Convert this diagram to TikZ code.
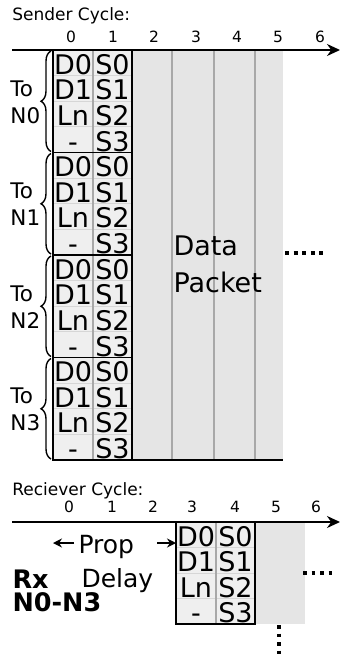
\documentclass[tikz,border=0pt]{standalone}
\usepackage{fontspec}
\setmainfont{DejaVu Sans}
\usetikzlibrary{arrows.meta,decorations.pathreplacing}
\definecolor{cellfill}{HTML}{EFEFEF}
\definecolor{pktfill}{HTML}{E5E5E5}
\definecolor{sepgray}{HTML}{A8A8A8}
\definecolor{rowgray}{HTML}{D6D6D6}
\tikzset{
  basefont/.style={font=\fontsize{10pt}{12pt}\selectfont, inner sep=0pt},
  celltxt/.style={basefont, scale=2.7, anchor=base},
  axlbl/.style={basefont, scale=1.55, anchor=base},
  ttl/.style={basefont, scale=1.7, anchor=base west},
  tolbl/.style={basefont, scale=2.15, anchor=base west},
  bigtxt/.style={basefont, scale=2.7, anchor=base west},
  delaytxt/.style={basefont, scale=2.5, anchor=base west},
  rxtxt/.style={font=\bfseries\fontsize{10pt}{12pt}\selectfont, inner sep=0pt, scale=2.55, anchor=base west},
  axisline/.style={line width=2pt, -{Stealth[length=13pt,width=12pt]}},
  grpborder/.style={draw=black, line width=1.6pt},
  colsep/.style={draw=sepgray, line width=1.5pt},
  rowsep/.style={draw=rowgray, line width=1pt},
  pktsep/.style={draw=sepgray, line width=1.8pt},
  dotline/.style={line width=4pt, dash pattern=on 4pt off 4.6pt},
  bracestyle/.style={decorate, decoration={brace, amplitude=10pt}, line width=1.4pt},
  proparrow/.style={line width=2pt, -{Stealth[length=9pt,width=9pt]}}
}
\begin{document}
\begin{tikzpicture}[x=1pt,y=-1pt]
\useasboundingbox (0,0) rectangle (340,656);

% ---------- Sender ----------
\node[ttl] (sendtitle) at (12,20.5) {Sender Cycle:};
\foreach \i/\xx in {0/71,1/113,2/154,3/196,4/237,5/278,6/320}{
  \node[axlbl] (sl\i) at (\xx,42) {\i};
}

% data packet area
\fill[pktfill] (132,50) rectangle (283,460);
\foreach \xx in {172,214,255}{
  \draw[pktsep] (\xx,50) -- (\xx,460);
}
\draw[black, line width=1.6pt] (132,460) -- (283,460);
\node[bigtxt] (data) at (173,255) {Data};
\node[bigtxt] (packet) at (173,292) {Packet};
\coordinate (dotsA) at (285,253);
\coordinate (dotsB) at (326,253);
\draw[dotline] (dotsA) -- (dotsB);

% header groups
\foreach \g in {0,1,2,3}{
  \pgfmathsetmacro{\top}{50+102.5*\g}
  \pgfmathsetmacro{\bot}{\top+102.5}
  \fill[cellfill] (53,\top) rectangle (132,\bot);
  \foreach \k in {1,2,3}{
    \draw[rowsep] (53,\top+25.6*\k) -- (132,\top+25.6*\k);
  }
  \draw[colsep] (93,\top) -- (93,\bot);
  \draw[grpborder] (53,\top) rectangle (132,\bot);
  \foreach \k/\a/\b in {0/D0/S0,1/D1/S1,2/Ln/S2,3/-/S3}{
    \node[celltxt] (d\g\k) at (73,\top+25.6*\k+24.2) {\a};
    \node[celltxt] (s\g\k) at (112.5,\top+25.6*\k+24.2) {\b};
  }
  \draw[bracestyle] (51,\bot-1) -- (51,\top+1);
  \node[tolbl] (to\g) at (10,\top+46) {To};
  \node[tolbl] (nn\g) at (10,\top+73) {N\g};
}

\coordinate (sax0) at (12,50);
\coordinate (sax1) at (340,50);
\draw[axisline] (sax0) -- (sax1);

% ---------- Receiver ----------
\node[ttl] (rectitle) at (12,495.5) {Reciever Cycle:};
\foreach \i/\xx in {0/69,1/112,2/153,3/192,4/235,5/276,6/316}{
  \node[axlbl] (rl\i) at (\xx,512) {\i};
}
\fill[pktfill] (255,522) rectangle (305,624);
\fill[cellfill] (176,522) rectangle (255,624);
\foreach \k in {1,2,3}{
  \draw[rowsep] (176,522+25.5*\k) -- (255,522+25.5*\k);
}
\draw[colsep] (216,522) -- (216,624);
\draw[grpborder] (176,522) rectangle (255,624);
\foreach \k/\a/\b in {0/D0/S0,1/D1/S1,2/Ln/S2,3/-/S3}{
  \node[celltxt] (rd\k) at (196,522+25.5*\k+24.2) {\a};
  \node[celltxt] (rs\k) at (235.5,522+25.5*\k+24.2) {\b};
}
\coordinate (rax0) at (12,522);
\coordinate (rax1) at (340,522);
\draw[axisline] (rax0) -- (rax1);

\node[delaytxt] (prop) at (78,553) {Prop};
\node[delaytxt] (delay) at (81,587) {Delay};
\coordinate (pl0) at (74,543);
\coordinate (pl1) at (53,543);
\draw[proparrow] (pl0) -- (pl1);
\coordinate (pr0) at (157,543);
\coordinate (pr1) at (176,543);
\draw[proparrow] (pr0) -- (pr1);

\node[rxtxt] (rx) at (12,588) {Rx};
\node[rxtxt] (rxn) at (12,611) {N0-N3};

\coordinate (rdA) at (303,573);
\coordinate (rdB) at (336,573);
\draw[dotline, line width=3.6pt, dash pattern=on 3.6pt off 4.9pt] (rdA) -- (rdB);
\coordinate (vdA) at (279,625);
\coordinate (vdB) at (279,656);
\draw[dotline, line width=3.6pt, dash pattern=on 3.6pt off 4.9pt] (vdA) -- (vdB);
\end{tikzpicture}
\end{document}
